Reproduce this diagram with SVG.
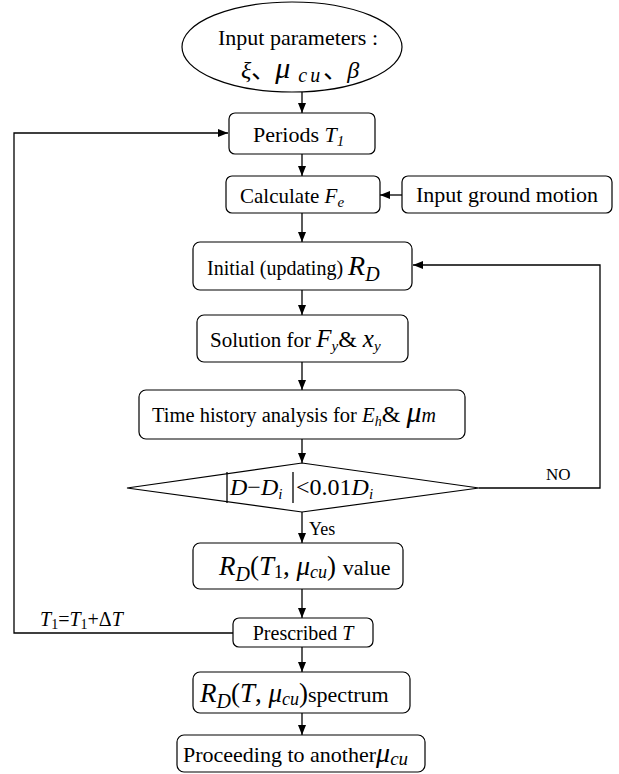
<svg xmlns="http://www.w3.org/2000/svg" width="619" height="774" viewBox="0 0 619 774">
<style>
.box{fill:#fff;stroke:#000;stroke-width:1.2}
.ln{fill:none;stroke:#000;stroke-width:1.3}
text{font-family:"Liberation Serif","Times New Roman","DejaVu Serif","Noto Sans CJK SC",serif;fill:#000}
.i{font-style:italic}
</style>
<defs>
<marker id="ah" markerWidth="10" markerHeight="8" refX="10" refY="4" orient="auto" markerUnits="userSpaceOnUse">
<path d="M0,0 L10,4 L0,8 Z" fill="#000"/>
</marker>
</defs>
<rect width="619" height="774" fill="#fff"/>
<g id="connectors">
<line class="ln" x1="302" y1="92" x2="302" y2="113" marker-end="url(#ah)"/>
<line class="ln" x1="302" y1="154" x2="302" y2="176" marker-end="url(#ah)"/>
<line class="ln" x1="402" y1="195" x2="380" y2="195" marker-end="url(#ah)"/>
<line class="ln" x1="302" y1="213" x2="302" y2="242" marker-end="url(#ah)"/>
<line class="ln" x1="302" y1="290" x2="302" y2="315" marker-end="url(#ah)"/>
<line class="ln" x1="302" y1="362" x2="302" y2="390" marker-end="url(#ah)"/>
<line class="ln" x1="302" y1="439" x2="302" y2="463" marker-end="url(#ah)"/>
<line class="ln" x1="302" y1="512" x2="302" y2="543" marker-end="url(#ah)"/>
<line class="ln" x1="302" y1="589" x2="302" y2="618" marker-end="url(#ah)"/>
<line class="ln" x1="302" y1="647" x2="302" y2="672" marker-end="url(#ah)"/>
<line class="ln" x1="302" y1="713" x2="302" y2="735" marker-end="url(#ah)"/>
<polyline class="ln" points="479,488 600,488 600,265 413,265" marker-end="url(#ah)"/>
<polyline class="ln" points="233,633 14,633 14,133 228,133" marker-end="url(#ah)"/>
<text x="546" y="480" font-size="17">NO</text>
<text x="309" y="535" font-size="18">Yes</text>
<text x="40" y="626" font-size="20"><tspan class="i">T</tspan><tspan font-size="14" dy="3">1</tspan><tspan dy="-3">=</tspan><tspan class="i">T</tspan><tspan font-size="14" dy="3">1</tspan><tspan dy="-3">+Δ</tspan><tspan class="i">T</tspan></text>
</g>
<g id="input-params">
<ellipse class="box" cx="292" cy="47" rx="110" ry="45"/>
<text x="218" y="45" font-size="22">Input parameters :</text>
<text x="241" y="78" font-size="24"><tspan class="i">ξ</tspan>、<tspan class="i" font-size="30">μ</tspan><tspan class="i" font-size="20" dy="4" letter-spacing="3"> cu</tspan><tspan dy="-4">、</tspan><tspan class="i">β</tspan></text>
</g>
<g id="periods">
<rect class="box" x="229" y="113" width="146" height="41" rx="6"/>
<text x="253" y="142" font-size="22">Periods <tspan class="i">T</tspan><tspan class="i" font-size="15" dy="4">1</tspan></text>
</g>
<g id="calculate">
<rect class="box" x="226" y="176" width="154" height="37" rx="6"/>
<text x="240" y="203" font-size="21">Calculate <tspan class="i">F</tspan><tspan class="i" font-size="15" dy="4">e</tspan></text>
</g>
<g id="ground-motion">
<rect class="box" x="402" y="176" width="210" height="37" rx="6"/>
<text x="507" y="202" font-size="22" text-anchor="middle">Input ground motion</text>
</g>
<g id="initial">
<rect class="box" x="193" y="242" width="219" height="48" rx="7"/>
<text x="207" y="275" font-size="20">Initial (updating) <tspan class="i" font-size="28">R</tspan><tspan class="i" font-size="20" dy="6">D</tspan></text>
</g>
<g id="solution">
<rect class="box" x="197" y="315" width="211" height="47" rx="7"/>
<text x="210" y="347" font-size="21">Solution for <tspan class="i" font-size="25">F</tspan><tspan class="i" font-size="15" dy="4">y</tspan><tspan font-size="24" dy="-4">&amp; </tspan><tspan class="i" font-size="25">x</tspan><tspan class="i" font-size="15" dy="4">y</tspan></text>
</g>
<g id="time-history">
<rect class="box" x="139" y="390" width="326" height="49" rx="7"/>
<text x="152" y="422" font-size="20.5">Time history analysis for <tspan class="i" font-size="21">E</tspan><tspan class="i" font-size="14" dy="4">h</tspan><tspan font-size="24" dy="-4">&amp; </tspan><tspan class="i" font-size="30">μ</tspan><tspan class="i" font-size="20">m</tspan></text>
</g>
<g id="check">
<polygon class="box" points="302,463 479,488 302,512 127,488"/>
<line class="ln" x1="227" y1="472" x2="227" y2="503" stroke-width="1"/>
<line class="ln" x1="293" y1="472" x2="293" y2="503" stroke-width="1"/>
<text x="230" y="495" font-size="24"><tspan class="i">D</tspan>−<tspan class="i">D</tspan><tspan class="i" font-size="15" dy="4">i</tspan></text>
<text x="296" y="495" font-size="24">&lt;0.01<tspan class="i">D</tspan><tspan class="i" font-size="15" dy="4">i</tspan></text>
</g>
<g id="rd-value">
<rect class="box" x="193" y="543" width="210" height="46" rx="7"/>
<text x="219" y="575" font-size="27"><tspan class="i">R</tspan><tspan class="i" font-size="20" dy="6">D</tspan><tspan dy="-6">(</tspan><tspan class="i">T</tspan><tspan font-size="18" dy="3">1</tspan><tspan dy="-3">, </tspan><tspan class="i">μ</tspan><tspan class="i" font-size="18" dy="3">cu</tspan><tspan dy="-3">) </tspan><tspan font-size="22">value</tspan></text>
</g>
<g id="prescribed">
<rect class="box" x="233" y="618" width="140" height="29" rx="6"/>
<text x="303" y="640" font-size="20" text-anchor="middle">Prescribed <tspan class="i">T</tspan></text>
</g>
<g id="spectrum">
<rect class="box" x="193" y="672" width="217" height="41" rx="7"/>
<text x="200" y="702" font-size="27"><tspan class="i">R</tspan><tspan class="i" font-size="20" dy="6">D</tspan><tspan dy="-6">(</tspan><tspan class="i">T</tspan>, <tspan class="i">μ</tspan><tspan class="i" font-size="18" dy="3">cu</tspan><tspan dy="-3">)</tspan><tspan font-size="22">spectrum</tspan></text>
</g>
<g id="proceeding">
<rect class="box" x="177" y="735" width="248" height="37" rx="7"/>
<text x="183" y="762" font-size="22">Proceeding to another<tspan class="i" font-size="28">μ</tspan><tspan class="i" font-size="19" dy="3">cu</tspan></text>
</g>
</svg>
